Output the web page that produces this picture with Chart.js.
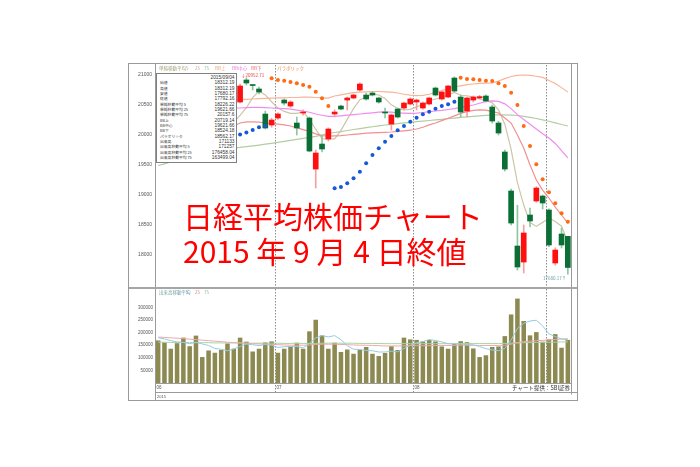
<!DOCTYPE html>
<html>
<head>
<meta charset="utf-8">
<script src="https://cdn.jsdelivr.net/npm/chart.js@4.4.1/dist/chart.umd.min.js"></script>
<style>
  html, body { margin: 0; padding: 0; background: #fff; }
  #wrap { position: relative; width: 700px; height: 467px; overflow: hidden; background: #fff;
          font-family: "Noto Sans CJK JP", "Noto Sans", sans-serif; }
  canvas { position: absolute; left: 0; top: 0; z-index: 1; }
  .t { position: absolute; white-space: pre; line-height: 1; z-index: 5; }
  #info { position: absolute; z-index: 4; left: 156px; top: 73px; width: 81px; height: 90px; box-sizing: border-box;
          border: 1px solid #808080; background: #fff; }
  #info .k, #info .v { position: absolute; white-space: pre; height: 5.33px; line-height: 5.33px; color: #333; }
  #info .k { left: 3px; font-size: 3.8px; }
  #info .v { right: 1.5px; font-family: "Liberation Sans", sans-serif; font-size: 4.8px; }
  #title { position: absolute; z-index: 6; left: 183px; top: 198px; color: #ff0000; font-size: 30px;
           line-height: 35px; white-space: pre; }
  #credit { position: absolute; z-index: 5; left: 498px; top: 385px; width: 72px; height: 7px; background: #fff;
            font-size: 5.5px; line-height: 7px; color: #333; text-align: right; white-space: pre; }
</style>
</head>
<body>
<div id="wrap">
  <canvas id="priceChart" width="700" height="467"></canvas>
  <canvas id="volChart" width="700" height="467"></canvas>

  <div class="t" style="left:159px;top:66px;font-size:4.5px;color:#a4a27a">単純移動平均</div>
  <div class="t" style="left:186px;top:66px;font-size:4.5px;color:#b9b08e">5</div>
  <div class="t" style="left:195px;top:66px;font-size:4.5px;color:#c9a0a0">25</div>
  <div class="t" style="left:204px;top:66px;font-size:4.5px;color:#9cbf8c">75</div>
  <div class="t" style="left:215px;top:66px;font-size:4.5px;color:#f0a070">BB上</div>
  <div class="t" style="left:232px;top:66px;font-size:4.5px;color:#e27ae2">BB中心</div>
  <div class="t" style="left:251px;top:66px;font-size:4.5px;color:#e87070">BB下</div>
  <div class="t" style="left:277px;top:66px;font-size:4.5px;color:#f08a4a">パラボリック</div>

  <div id="info"></div>

  <div class="t" style="left:241px;top:73px;font-size:4.5px;color:#e23a3a">↓20952.71</div>
  <div class="t" style="left:543px;top:276px;font-size:4.5px;color:#6aa0a0">17680.17↑</div>

  <div class="t" style="left:159px;top:290px;font-size:4.5px;color:#6fa3a3">出来高移動平均</div>
  <div class="t" style="left:186px;top:290px;font-size:4.5px;color:#6aaed0">5</div>
  <div class="t" style="left:195px;top:290px;font-size:4.5px;color:#d88a90">25</div>
  <div class="t" style="left:204px;top:290px;font-size:4.5px;color:#8cc284">75</div>

  <div id="credit">チャート提供：SBI証券</div>

  <div id="title">日経平均株価チャート
2015 年 9 月 4 日終値</div>
</div>

<script>
// ---- data (2015/06/04 - 2015/09/04) ----
const dates = [
  '06/04','06/05','06/08','06/09','06/10','06/11','06/12','06/15','06/16','06/17','06/18','06/19','06/22','06/23','06/24','06/25','06/26','06/29','06/30',
  '07/01','07/02','07/03','07/06','07/07','07/08','07/09','07/10','07/13','07/14','07/15','07/16','07/17','07/21','07/22','07/23','07/24','07/27','07/28','07/29','07/30','07/31',
  '08/03','08/04','08/05','08/06','08/07','08/10','08/11','08/12','08/13','08/14','08/17','08/18','08/19','08/20','08/21','08/24','08/25','08/26','08/27','08/28','08/31',
  '09/01','09/02','09/03','09/04'
];

const open = [20400,20450,20500,20350,20100,20200,20450,20350,20280,20280,20100,20100,20300,
  20550,20917,20835,20767,20350,20167,
  20283,20583,20483,20200,20367,20283,19433,19850,19933,20350,20483,20583,20617,20750,20667,20700,20617,20383,20183,20433,20450,20517,
  20550,20450,20517,20783,20600,20633,20950,20633,20400,20583,20617,20650,20467,20200,19717,19067,18150,17883,18667,18900,18983,
  18750,17867,18350,18312];
const high = [20500,20490,20550,20380,20160,20400,20500,20420,20300,20300,20150,20200,20450,
  20850,20952,20845,20800,20400,20280,
  20370,20600,20570,20300,20420,20300,19750,20000,20120,20420,20500,20633,20680,20870,20700,20720,20630,20450,20350,20450,20550,20620,
  20600,20550,20630,20800,20730,20830,20970,20667,20630,20650,20660,20670,20500,20230,19750,19100,18830,18500,18783,19140,19000,
  18770,18120,18450,18312];
const low = [20380,20400,20430,20080,19990,20180,20380,20300,20180,20150,19980,20050,20280,
  20533,20833,20750,20683,20100,20130,
  20260,20500,20460,20000,20330,19720,19117,19717,19900,20300,20420,20417,20600,20730,20580,20650,20530,20283,20083,20283,20420,20500,
  20417,20430,20500,20650,20580,20620,20720,20300,20300,20550,20600,20550,20200,20000,19400,18500,17750,17700,18467,18880,18767,
  18140,17830,18117,17680];
const close = [20473,20460,20457,20096,20046,20382,20407,20387,20257,20219,19990,20174,20428,
  20817,20867,20825,20717,20117,20250,
  20350,20533,20550,20117,20383,19733,19700,19767,20100,20383,20433,20617,20667,20850,20600,20667,20550,20367,20333,20300,20533,20600,
  20583,20533,20617,20667,20717,20817,20733,20383,20617,20633,20640,20567,20233,20033,19433,18533,17800,18367,18567,19117,18867,
  18167,18083,18167,17792];

const sma5 = [20420,20440,20450,20380,20306,20288,20278,20264,20296,20330,20252,20205,20214,
  20326,20455,20622,20731,20669,20555,
  20452,20393,20360,20360,20387,20263,20097,19940,19937,19937,20077,20260,20440,20590,20633,20680,20667,20607,20503,20443,20417,20427,
  20470,20510,20573,20600,20623,20670,20710,20663,20653,20637,20601,20568,20538,20421,20181,19760,19206,18833,18540,18477,18544,
  18617,18560,18480,18215];
const sma75 = [19492,19520,19550,19575,19605,19630,19655,19680,19705,19725,19745,19765,19785,
  19795,19808,19820,19833,19847,19862,
  19878,19895,19912,19928,19945,19962,19978,20000,20028,20042,20058,20075,20092,20108,20123,20138,20153,20167,20178,20190,20202,20212,
  20222,20232,20242,20252,20262,20272,20283,20293,20303,20312,20320,20327,20333,20337,20337,20333,20325,20312,20295,20275,20253,
  20230,20203,20175,20150];
const bbUpper = [20750,20740,20730,20720,20700,20690,20680,20670,20660,20650,20640,20620,20600,
  20590,20595,20600,20605,20610,20615,
  20620,20620,20625,20625,20630,20630,20625,20620,20615,20650,20670,20690,20705,20715,20720,20725,20725,20720,20715,20700,20680,20665,
  20655,20660,20680,20710,20740,20770,20800,20820,20840,20850,20860,20865,20870,20900,20940,20975,20995,21000,20995,20980,20960,
  20910,20860,20790,20715];
const bbMid = [20300,20320,20340,20360,20380,20400,20410,20420,20430,20440,20445,20450,20450,
  20450,20455,20460,20460,20455,20450,
  20445,20440,20430,20415,20400,20380,20350,20330,20310,20310,20320,20330,20340,20350,20360,20370,20380,20385,20380,20370,20365,20360,
  20365,20375,20390,20400,20410,20425,20440,20460,20480,20500,20530,20560,20570,20560,20520,20440,20340,20260,20180,20100,20020,
  19950,19860,19740,19620];
const bbLower = [19850,19870,19890,19910,19930,19950,19970,19990,20010,20030,20060,20100,20150,
  20200,20220,20220,20215,20200,20190,
  20180,20170,20150,20120,20090,20060,20020,19990,19980,19985,19990,20000,20010,20020,20030,20035,20040,20045,20050,20060,20070,20080,
  20100,20130,20170,20200,20240,20280,20320,20360,20390,20410,20420,20415,20390,20367,20283,20200,20000,19783,19500,19250,19083,
  18950,18800,18667,18533];
const sar = [20120,20150,20180,20550,20540,20530,20520,20510,20500,20490,20480,20470,19980,
  20008,20042,20083,20128,20155,20945,
  20917,20905,20883,20862,20833,20805,20722,20612,20483,19112,19133,19195,19278,19388,19528,19667,19778,19888,19983,20078,20150,20222,
  20288,20345,20388,20438,20483,20512,20555,20955,20933,20928,20917,20905,20900,20862,20817,20705,20500,20150,19817,19512,19262,
  19045,18862,18695,18555];

// volume, in thousands
const volume = [169,161,136,158,180,146,188,103,129,120,131,157,136,
  180,164,125,136,161,165,
  120,136,144,160,136,205,251,189,136,160,123,133,116,131,143,116,107,119,146,131,180,173,
  171,165,171,165,145,136,156,166,162,137,103,110,143,145,186,272,335,246,189,202,164,
  173,194,140,171];
const volMa5 = [180,175,168,163,161,156,162,155,149,137,134,128,135,
  145,154,152,148,153,150,
  141,144,145,145,139,156,179,188,183,188,172,148,134,133,129,128,123,123,126,124,137,150,
  160,164,172,169,163,156,155,154,153,151,145,136,131,128,137,171,216,237,246,249,227,
  195,184,175,171];
const volMa25 = [182,181,179,178,176,174,172,170,168,166,164,162,160,
  159,158,156,155,154,153,
  152,151,150,150,150,151,153,154,154,154,153,152,151,150,150,149,148,147,147,147,147,148,
  148,148,148,149,149,149,149,150,150,150,149,149,149,149,150,154,160,164,166,168,169,
  171,173,174,176];
const volMa75 = [162,162,161,161,161,160,160,160,160,159,159,159,159,
  159,158,158,158,158,158,
  158,157,157,157,157,157,157,158,158,158,158,158,158,157,157,157,157,156,156,156,156,156,
  156,156,156,156,156,156,156,157,157,157,157,157,157,157,157,158,159,160,160,161,161,
  162,162,163,163];

const priceTicks = [18000, 18500, 19000, 19500, 20000, 20500, 21000];
const volTicks = [50, 100, 150, 200, 250, 300];
const VOL_UNIT = 1000;

const infoRows = [
  ['', '2015/09/04'],
  ['始値', '18312.19'],
  ['高値', '18312.19'],
  ['安値', '17680.17'],
  ['終値', '17792.16'],
  ['単純移動平均 5', '18226.22'],
  ['単純移動平均 25', '19621.66'],
  ['単純移動平均 75', '20157.6'],
  ['BB上', '20719.14'],
  ['BB中心', '19621.66'],
  ['BB下', '18524.18'],
  ['パラボリック', '18562.17'],
  ['出来高', '171133'],
  ['出来高移動平均 5', '171257'],
  ['出来高移動平均 25', '176458.04'],
  ['出来高移動平均 75', '163499.04']
];

// ---- info box (one row every 5.33px) ----
const info = document.getElementById('info');
infoRows.forEach(([k, v], r) => {
  const top = (1 + r * 5.33) + 'px';
  if (k) {
    const kd = document.createElement('div');
    kd.className = 'k'; kd.style.top = top; kd.textContent = k;
    info.appendChild(kd);
  }
  const vd = document.createElement('div');
  vd.className = 'v'; vd.style.top = top; vd.textContent = v;
  info.appendChild(vd);
});

// ---- helpers ----
const monthStarts = dates
  .map((d, i) => (i === 0 || d.slice(0, 2) !== dates[i - 1].slice(0, 2)) ? i : -1)
  .filter(i => i >= 0);

function boundaryX(x, i) {
  if (i === 0) return x.left;
  return (x.getPixelForValue(i - 1) + x.getPixelForValue(i)) / 2;
}

function dottedMonths(ctx, x, top, bottom) {
  ctx.save();
  ctx.strokeStyle = '#8c8c8c';
  ctx.lineWidth = 1;
  ctx.setLineDash([1.5, 1.5]);
  monthStarts.slice(1).forEach(i => {
    const px = Math.round(boundaryX(x, i)) + 0.5;
    ctx.beginPath();
    ctx.moveTo(px, top);
    ctx.lineTo(px, bottom);
    ctx.stroke();
  });
  ctx.restore();
}

const priceDecor = {
  id: 'priceDecor',
  beforeDatasetsDraw(chart) {
    const { ctx, chartArea: a, scales: { x } } = chart;
    dottedMonths(ctx, x, a.top, a.bottom);
  }
};

const volDecor = {
  id: 'volDecor',
  beforeDatasetsDraw(chart) {
    const { ctx, chartArea: a, scales: { x } } = chart;
    dottedMonths(ctx, x, a.top, a.bottom + 9);
  },
  afterDraw(chart) {
    const { ctx, chartArea: a, scales: { x } } = chart;
    ctx.save();
    ctx.strokeStyle = '#9a9a9a';
    ctx.lineWidth = 1;
    // outer frame
    ctx.strokeRect(128.5, 63.5, 449, 337);
    // y axis + right edge of plot
    ctx.beginPath();
    ctx.moveTo(155.5, 63.5); ctx.lineTo(155.5, 400.5);
    ctx.moveTo(a.right + 0.5, 63.5); ctx.lineTo(a.right + 0.5, 394.5);
    // x axis and label strip
    ctx.moveTo(155, a.bottom + 0.5); ctx.lineTo(a.right + 1, a.bottom + 0.5);
    ctx.moveTo(155, a.bottom + 9.5); ctx.lineTo(577, a.bottom + 9.5);
    ctx.stroke();
    // panel separator
    ctx.fillStyle = '#a6a6a6';
    ctx.fillRect(129, 287, 448, 2);

    // month labels
    ctx.fillStyle = '#555';
    ctx.font = '4.5px "Liberation Sans", sans-serif';
    ctx.textBaseline = 'middle';
    monthStarts.forEach(i => {
      ctx.fillText(dates[i].slice(0, 2), Math.round(boundaryX(x, i)) + 1.5, a.bottom + 5);
    });
    ctx.font = '4px "Liberation Sans", sans-serif';
    ctx.fillText('2015', 157, a.bottom + 13.5);
    ctx.restore();
  }
};

Chart.defaults.font.family = '"Liberation Sans", sans-serif';

const hiddenX = { display: false, offset: true, grid: { display: false } };

// ---- price panel ----
const isUp = close.map((c, i) => c >= open[i]);

new Chart(document.getElementById('priceChart'), {
  type: 'bar',
  data: {
    labels: dates,
    datasets: [
      {
        type: 'line', label: 'パラボリック', data: sar, showLine: false,
        pointRadius: 2, pointBorderWidth: 0, pointHoverRadius: 2,
        pointBackgroundColor: sar.map((s, i) => s < (high[i] + low[i]) / 2 ? '#1559d9' : '#ff6a12'),
        order: 0
      },
      {
        label: 'body', data: open.map((o, i) => [o, close[i]]),
        backgroundColor: isUp.map(u => u ? '#ff0f0f' : '#0a6e35'),
        barThickness: 5, grouped: false, minBarLength: 1, order: 1
      },
      {
        label: 'wick', data: low.map((l, i) => [l, high[i]]),
        backgroundColor: isUp.map(u => u ? '#f4a0a0' : '#8cc79e'),
        barThickness: 1, grouped: false, order: 2
      },
      { type: 'line', label: 'BB上', data: bbUpper, borderColor: '#f7b598', borderWidth: 1.2, pointRadius: 0, order: 3 },
      { type: 'line', label: 'BB中心', data: bbMid, borderColor: '#f08cf0', borderWidth: 1.2, pointRadius: 0, order: 3 },
      { type: 'line', label: 'BB下', data: bbLower, borderColor: '#f29090', borderWidth: 1.2, pointRadius: 0, order: 3 },
      { type: 'line', label: '5', data: sma5, borderColor: '#cdc6a6', borderWidth: 1.2, pointRadius: 0, order: 3 },
      { type: 'line', label: '75', data: sma75, borderColor: '#b3cca3', borderWidth: 1.2, pointRadius: 0, order: 3 }
    ]
  },
  options: {
    responsive: false,
    animation: false,
    events: [],
    layout: { padding: { left: 127, right: 129, top: 65, bottom: 180 } },
    plugins: { legend: { display: false }, tooltip: { enabled: false } },
    scales: {
      x: hiddenX,
      y: {
        min: 17467, max: 21167,
        afterFit(s) { s.width = 28; },
        afterBuildTicks(s) { s.ticks = priceTicks.map(v => ({ value: v })); },
        grid: { display: false, drawTicks: false },
        border: { display: false },
        ticks: { font: { size: 5 }, color: '#555', padding: 3, callback: v => String(v) }
      }
    }
  },
  plugins: [priceDecor]
});

// ---- volume panel ----
new Chart(document.getElementById('volChart'), {
  type: 'bar',
  data: {
    labels: dates,
    datasets: [
      { type: 'line', label: '5', data: volMa5, borderColor: '#94cce0', borderWidth: 1, pointRadius: 0, order: 0 },
      { type: 'line', label: '25', data: volMa25, borderColor: '#eca7ae', borderWidth: 1, pointRadius: 0, order: 0 },
      { type: 'line', label: '75', data: volMa75, borderColor: '#a8d5a0', borderWidth: 1, pointRadius: 0, order: 0 },
      {
        label: '出来高', data: volume, backgroundColor: '#8c8a50',
        barPercentage: 0.72, categoryPercentage: 1, order: 1
      }
    ]
  },
  options: {
    responsive: false,
    animation: false,
    events: [],
    layout: { padding: { left: 127, right: 129, top: 289, bottom: 84 } },
    plugins: { legend: { display: false }, tooltip: { enabled: false } },
    scales: {
      x: hiddenX,
      y: {
        min: 0, max: 373,
        afterFit(s) { s.width = 28; },
        afterBuildTicks(s) { s.ticks = volTicks.map(v => ({ value: v })); },
        grid: { display: false, drawTicks: false },
        border: { display: false },
        ticks: { font: { size: 4.5 }, color: '#555', padding: 2, callback: v => String(v * VOL_UNIT) }
      }
    }
  },
  plugins: [volDecor]
});
</script>
</body>
</html>
